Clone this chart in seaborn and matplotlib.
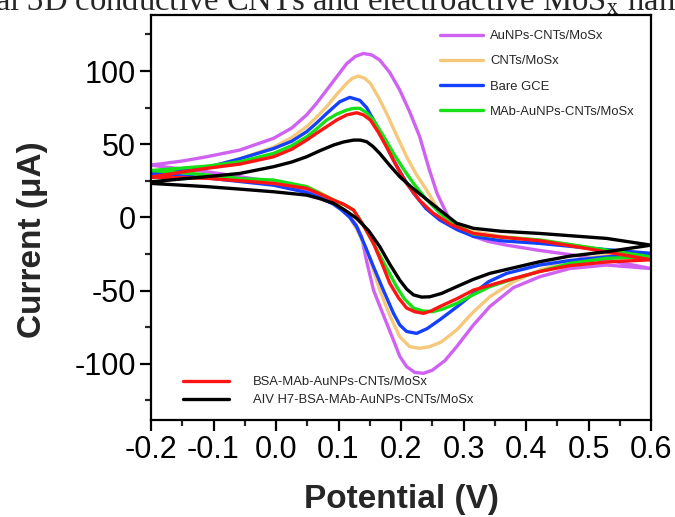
import numpy as np
import pandas as pd
import seaborn as sns
import matplotlib
matplotlib.use("Agg")
import matplotlib.pyplot as plt

# ---------------- data ----------------
labels = ["AuNPs-CNTs/MoSx", "CNTs/MoSx", "Bare GCE", "MAb-AuNPs-CNTs/MoSx",
          "BSA-MAb-AuNPs-CNTs/MoSx", "AIV H7-BSA-MAb-AuNPs-CNTs/MoSx"]
colors = ["#CF62F2", "#F5C87C", "#1440FF", "#16E016", "#FF1414", "#000000"]

aunps_V = [-0.2, -0.15, -0.111, -0.058, -0.004, 0.025, 0.049, 0.065, 0.081, 0.097, 0.113, 0.127, 0.140, 0.153, 0.166,
           0.182, 0.198, 0.214, 0.230, 0.245, 0.258, 0.278, 0.295, 0.316, 0.34, 0.369, 0.42, 0.476, 0.54, 0.6,
           0.529, 0.47, 0.422, 0.38, 0.342, 0.315, 0.289, 0.27, 0.25, 0.236, 0.222, 0.209, 0.198, 0.188, 0.172,
           0.156, 0.145, 0.137, 0.128, 0.118, 0.105, 0.092, 0.07, 0.049, 0.02, -0.004, -0.058, -0.111, -0.16, -0.2]
aunps_I = [35.7, 38.5, 41.4, 46, 54, 61, 70, 78, 87, 96, 105, 110, 112, 111, 107.5,
           99, 87, 72, 55, 33, 16, -1.8, -8.5, -13, -16.5, -19, -22.5, -25.8, -30, -35,
           -32.6, -35, -40.6, -48, -61, -74, -88.4, -98, -104.5, -106.6, -106, -102, -95, -84, -67,
           -49.7, -30, -13.3, -5, 0.4, 5.5, 9.6, 14.5, 18.7, 22, 24.3, 27.8, 31.2, 33.5, 35.7]

cnts_V = [-0.2, -0.111, -0.058, -0.004, 0.025, 0.049, 0.065, 0.081, 0.097, 0.113, 0.122, 0.132, 0.142, 0.151, 0.164,
          0.177, 0.193, 0.209, 0.225, 0.241, 0.255, 0.27, 0.29, 0.316, 0.36, 0.422, 0.5, 0.6,
          0.529, 0.47, 0.422, 0.38, 0.342, 0.315, 0.289, 0.265, 0.246, 0.23, 0.214, 0.198, 0.182, 0.166, 0.155,
          0.145, 0.129, 0.118, 0.105, 0.092, 0.07, 0.049, -0.004, -0.058, -0.111, -0.2]
cnts_I = [30, 34, 40, 48, 54.5, 62, 68.5, 75.6, 84, 91.6, 95, 96.6, 95, 91.6, 82,
          71, 56, 41.4, 29, 18.7, 8.5, 0, -5.5, -9.8, -13, -15.5, -20.5, -28,
          -25.8, -30, -36, -44, -54.3, -65, -77, -85, -88.4, -89.5, -88.4, -81.6, -67, -49.7, -35,
          -22.4, -8, 0, 6.5, 11.8, 17, 21, 24.3, 26, 27.8, 30]

gce_V = [-0.2, -0.111, -0.058, -0.004, 0.025, 0.049, 0.065, 0.081, 0.102, 0.118, 0.134, 0.145, 0.156, 0.172, 0.188,
         0.204, 0.22, 0.24, 0.262, 0.29, 0.316, 0.36, 0.422, 0.5, 0.6,
         0.529, 0.47, 0.422, 0.369, 0.34, 0.316, 0.29, 0.262, 0.242, 0.225, 0.209, 0.198, 0.188, 0.172, 0.156,
         0.142, 0.129, 0.118, 0.105, 0.092, 0.07, 0.049, -0.004, -0.058, -0.111, -0.2]
gce_I = [30, 34, 40, 47, 52, 58.5, 64.5, 71, 79, 82, 80, 75, 66.5, 53, 39,
         27, 16.6, 6, -1.8, -8.5, -13, -16, -17.8, -21, -24.6,
         -27, -29.5, -32.6, -38.3, -44, -52, -61, -70, -76, -79.3, -78, -73.5, -65.6, -50, -33.8,
         -19, -6.4, 0, 5, 9, 13.5, 17, 22, 24.5, 27, 30]

mab_V = [-0.2, -0.111, -0.058, -0.004, 0.025, 0.049, 0.065, 0.081, 0.097, 0.113, 0.124, 0.134, 0.145, 0.156, 0.172,
         0.188, 0.204, 0.22, 0.24, 0.262, 0.29, 0.316, 0.36, 0.422, 0.5, 0.6,
         0.529, 0.47, 0.422, 0.38, 0.342, 0.315, 0.289, 0.268, 0.251, 0.235, 0.22, 0.206, 0.193, 0.175, 0.156,
         0.14, 0.124, 0.108, 0.092, 0.07, 0.049, -0.004, -0.058, -0.111, -0.15, -0.2]
mab_I = [32, 35, 38, 43.7, 49, 55, 60.5, 66.5, 70.5, 73.3, 74.5, 74.5, 71.5, 66.5, 55.5,
         43.7, 33, 23.2, 12.5, 3, -5.5, -11.4, -13.5, -15.5, -20.5, -27,
         -28, -31.5, -37, -42, -47.4, -53, -58.8, -62.5, -64.5, -64, -62, -56, -47.4, -33, -17.8,
         -5.5, 5, 9, 11.8, 16.5, 21, 25.5, 26.5, 29, 30.5, 32]

bsa_V = [-0.2, -0.15, -0.111, -0.058, -0.004, 0.025, 0.049, 0.065, 0.081, 0.097, 0.113, 0.129, 0.14, 0.151, 0.164,
         0.177, 0.193, 0.209, 0.23, 0.251, 0.28, 0.316, 0.36, 0.422, 0.5, 0.6,
         0.529, 0.47, 0.422, 0.37, 0.316, 0.29, 0.262, 0.248, 0.236, 0.222, 0.209, 0.196, 0.182, 0.17, 0.156,
         0.14, 0.124, 0.108, 0.092, 0.07, 0.049, -0.004, -0.058, -0.111, -0.2]
bsa_I = [27.5, 31, 33.5, 36.4, 41.4, 46.5, 52.8, 57.5, 62, 66.5, 70, 71.5, 70, 66.5, 58,
         48, 35, 23.2, 11.5, 3, -5, -11, -13.5, -16, -21.5, -29,
         -30.5, -33, -37, -43, -49.7, -55.5, -61, -64, -65.6, -64.5, -62, -55, -45, -32, -17.8,
         -5.5, 5, 9, 11.8, 16, 19.8, 23.2, 25, 26.7, 27.5]

aiv_V = [-0.2, -0.111, -0.058, -0.004, 0.025, 0.049, 0.07, 0.092, 0.108, 0.124, 0.135, 0.145, 0.155, 0.166, 0.182,
         0.198, 0.217, 0.236, 0.262, 0.289, 0.316, 0.36, 0.422, 0.529, 0.6,
         0.529, 0.47, 0.422, 0.38, 0.342, 0.315, 0.289, 0.265, 0.246, 0.233, 0.22, 0.209, 0.198, 0.182, 0.166,
         0.148, 0.129, 0.11, 0.092, 0.07, 0.049, -0.004, -0.058, -0.111, -0.2]
aiv_I = [24.3, 27.8, 30, 34.6, 37.8, 41.4, 45.5, 49.4, 51.5, 52.8, 52.8, 51.7, 48.5, 43.7, 35.5,
         27.8, 20.5, 14, 5, -4, -7.5, -9.5, -11, -14.4, -19,
         -23.5, -26.5, -30.3, -34.5, -38.3, -42.5, -47.4, -52, -54.3, -54.5, -53, -49, -42.9, -32, -20,
         -9, -0.7, 5, 9.6, 12.8, 15.2, 17.5, 19.3, 21, 23.2]

x_ticks = [-0.2, -0.1, 0.0, 0.1, 0.2, 0.3, 0.4, 0.5, 0.6]
y_ticks = [-100, -50, 0, 50, 100]

# ---------------- build table ----------------
series = [(aunps_V, aunps_I), (cnts_V, cnts_I), (gce_V, gce_I),
          (mab_V, mab_I), (bsa_V, bsa_I), (aiv_V, aiv_I)]
frames = []
for lab, (v, i) in zip(labels, series):
    frames.append(pd.DataFrame({"Potential": v, "Current": i, "series": lab}))
df = pd.concat(frames, ignore_index=True)

sns.set_theme(style="white")
plt.rcParams["font.family"] = ["Liberation Sans", "DejaVu Sans"]
plt.rcParams["mathtext.fontset"] = "stix"
plt.rcParams["axes.unicode_minus"] = False

fig = plt.figure(figsize=(6.75, 5.17), dpi=100)
ax = fig.add_axes([151 / 675, 1 - 420 / 517, 500 / 675, 405.3 / 517])

sns.lineplot(data=df, x="Potential", y="Current", hue="series", hue_order=labels,
             palette=dict(zip(labels, colors)), sort=False, estimator=None,
             linewidth=2.4, legend=False, ax=ax)
for ln in ax.lines:
    ln.set_solid_joinstyle("round")

ax.set_xlim(-0.2, 0.6)
ax.set_ylim(-138.5, 138.5)
ax.set_xticks(x_ticks)
ax.set_xticklabels([f"{t:.1f}" for t in x_ticks])
ax.set_yticks(y_ticks)
ax.set_xticks(np.arange(-0.15, 0.6, 0.1), minor=True)
ax.set_yticks([-125, -75, -25, 25, 75, 125], minor=True)
ax.tick_params(axis="both", which="major", direction="out", length=8, width=1.6,
               labelsize=22, colors="black", pad=3, bottom=True, left=True)
ax.tick_params(axis="both", which="minor", direction="out", length=4.5, width=1.6,
               bottom=True, left=True)
for sp in ax.spines.values():
    sp.set_linewidth(1.6)
    sp.set_color("black")

ax.set_xlabel("Potential (V)", fontsize=24, fontweight="bold")
ax.set_ylabel("Current (\u03bcA)", fontsize=24, fontweight="bold")
ax.xaxis.set_label_coords(0.5, -0.158)
ax.yaxis.set_label_coords(-0.205, 0.444)

handles = ax.lines
leg1 = ax.legend(handles[:4], labels[:4], loc="upper left", bbox_to_anchor=(0.578, 0.962),
                 frameon=False, fontsize=9.4, handlelength=3.3, handletextpad=0.55,
                 labelspacing=1.0, borderpad=0, borderaxespad=0)
for h in leg1.get_lines():
    h.set_linewidth(2.4)
ax.add_artist(leg1)
leg2 = ax.legend(handles[4:], labels[4:], loc="lower left", bbox_to_anchor=(0.064, 0.034),
                 frameon=False, fontsize=9.4, handlelength=3.5, handletextpad=1.85,
                 labelspacing=0.45, borderpad=0, borderaxespad=0)
for h in leg2.get_lines():
    h.set_linewidth(2.4)

fig.text(-0.007, 1 - 10 / 517, "al 3D conductive CNTs and electroactive MoS$_{\\mathrm{x}}$ nanop",
         fontsize=23.5, family=["Liberation Serif", "DejaVu Serif"], va="baseline", ha="left")

fig.savefig("out.png", dpi=100)
